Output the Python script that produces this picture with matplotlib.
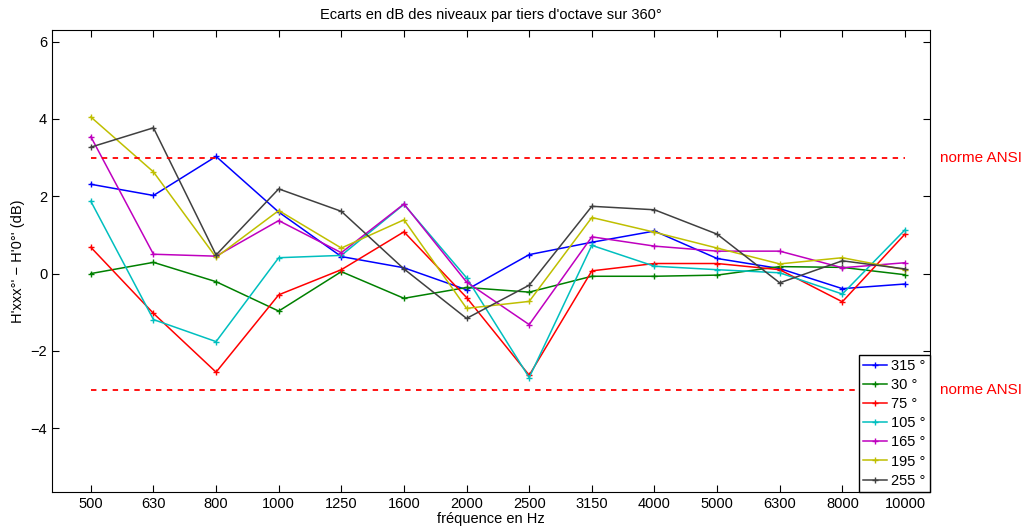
import matplotlib
matplotlib.use("Agg")
import matplotlib.pyplot as plt
import numpy as np

plt.rcParams['font.family'] = ['Liberation Sans', 'DejaVu Sans']

frequencies = ["500", "630", "800", "1000", "1250", "1600", "2000", "2500",
               "3150", "4000", "5000", "6300", "8000", "10000"]

s315 = [2.31, 2.02, 3.03, 1.59, 0.44, 0.15, -0.42, 0.49, 0.81, 1.10, 0.39, 0.13, -0.39, -0.27]
s30 = [0.00, 0.29, -0.21, -0.97, 0.05, -0.64, -0.36, -0.48, -0.07, -0.07, -0.04, 0.18, 0.16, -0.03]
s75 = [0.68, -1.03, -2.55, -0.55, 0.10, 1.08, -0.62, -2.63, 0.07, 0.26, 0.26, 0.10, -0.73, 1.02]
s105 = [1.87, -1.19, -1.76, 0.41, 0.47, 1.79, -0.11, -2.69, 0.73, 0.19, 0.10, 0.02, -0.53, 1.13]
s165 = [3.54, 0.50, 0.45, 1.37, 0.54, 1.80, -0.22, -1.32, 0.95, 0.71, 0.58, 0.58, 0.15, 0.28]
s195 = [4.05, 2.63, 0.42, 1.63, 0.66, 1.39, -0.90, -0.72, 1.45, 1.07, 0.66, 0.25, 0.41, 0.10]
s255 = [3.27, 3.77, 0.48, 2.19, 1.61, 0.12, -1.16, -0.30, 1.74, 1.65, 1.02, -0.24, 0.33, 0.12]

series = [("315 °", s315, "#0000ff"),
          ("30 °", s30, "#008000"),
          ("75 °", s75, "#ff0000"),
          ("105 °", s105, "#00bfbf"),
          ("165 °", s165, "#bf00bf"),
          ("195 °", s195, "#bfbf00"),
          ("255 °", s255, "#404040")]

ansi_limit = 3.0

fig = plt.figure(figsize=(10.31, 5.32), dpi=100)
ax = fig.add_axes([52 / 1031, 40 / 532, 878 / 1031, 462 / 532])

x = np.arange(1, len(frequencies) + 1)
for label, values, color in series:
    ax.plot(x, values, color=color, marker="+", markersize=5, linewidth=1.1, label=label)

ax.plot([x[0], x[-1]], [ansi_limit, ansi_limit], color="red", linestyle=(0, (3, 3)), linewidth=1.3)
ax.plot([x[0], x[-1]], [-ansi_limit, -ansi_limit], color="red", linestyle=(0, (3, 3)), linewidth=1.3)

ax.text(14.565, ansi_limit, "norme ANSI", color="red", fontsize=11, va="center", ha="left")
ax.text(14.565, -ansi_limit, "norme ANSI", color="red", fontsize=11, va="center", ha="left")

ax.set_xlim(0.38, 14.4)
ax.set_ylim(-5.65, 6.3)
ax.set_xticks(x)
ax.set_xticklabels(frequencies)
ax.set_yticks([-4, -2, 0, 2, 4, 6])
ax.tick_params(direction="in", top=True, right=True, labelsize=10.5, length=5)
ax.set_xlabel("fréquence en Hz", fontsize=10.5, labelpad=1)
ax.set_ylabel("H'xxx°' − H'0°' (dB)", fontsize=10.5)
ax.set_title("Ecarts en dB des niveaux par tiers d'octave sur 360°", fontsize=10.5, pad=8)

leg = ax.legend(loc="lower right", fontsize=10.5, handlelength=1.6, handletextpad=0.3,
                borderpad=0.3, labelspacing=0.35, borderaxespad=0.0, fancybox=False,
                framealpha=1.0, edgecolor="black")
leg.get_frame().set_linewidth(1.0)

fig.savefig("out.png", dpi=100)
